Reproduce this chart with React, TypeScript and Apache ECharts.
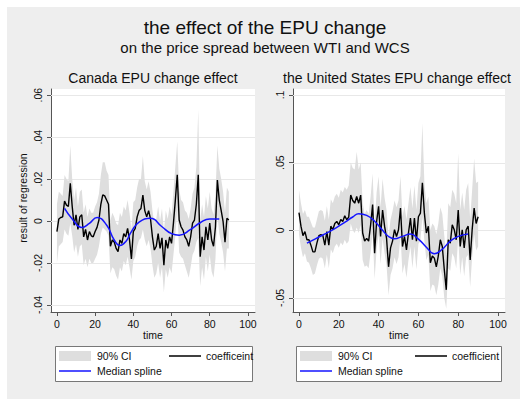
import React, { useEffect, useRef } from "react";
import * as echarts from "echarts";

const FONT = "'Liberation Sans', Arial, Helvetica, sans-serif";

// time index (periods 0..90)
const time = [
  0, 1, 2, 3, 4, 5, 6, 7, 8, 9, 10, 11, 12, 13, 14, 15, 16, 17, 18, 19,
  20, 21, 22, 23, 24, 25, 26, 27, 28, 29, 30, 31, 32, 33, 34, 35, 36, 37, 38, 39,
  40, 41, 42, 43, 44, 45, 46, 47, 48, 49, 50, 51, 52, 53, 54, 55, 56, 57, 58, 59,
  60, 61, 62, 63, 64, 65, 66, 67, 68, 69, 70, 71, 72, 73, 74, 75, 76, 77, 78, 79,
  80, 81, 82, 83, 84, 85, 86, 87, 88, 89, 90,
];

// ---- Canada EPU change effect ----
const caCoef = [
  -0.005, 0.001, 0.0017, 0.002, 0.0095, 0.0076, 0.007, 0.018, 0.007, -0.002,
  0.003, -0.004, 0.002, 0.003, -0.0075, -0.004, -0.009, -0.005, -0.007, -0.0075,
  -0.005, -0.003, 0.0005, 0.008, 0.0125, 0.012, 0.01, 0.008, -0.012, -0.009,
  -0.01, -0.013, -0.0146, -0.009, -0.0106, -0.006, -0.0075, -0.0035, -0.009, -0.018,
  -0.005, -0.0035, 0.002, 0.005, 0.006, 0.0124, 0.005, 0.002, 0.005, 0.001,
  -0.0075, -0.0138, -0.012, -0.006, -0.013, -0.008, -0.021, -0.009, -0.013, -0.0075,
  -0.0106, -0.001, 0.01, 0.022, 0.0005, -0.0027, -0.0043, -0.0075, -0.009, -0.012,
  -0.0075, -0.001, 0.0005, 0.008, 0.022, -0.017, -0.0075, -0.0138, -0.0027, -0.009,
  -0.001, -0.009, -0.012, -0.0027, 0.0195, 0.01, 0.005, -0.0003, -0.01, 0.0013,
  0.0005,
];
const caUpper = [
  0.008, 0.014, 0.013, 0.012, 0.022, 0.02, 0.019, 0.036, 0.02, 0.01,
  0.016, 0.007, 0.014, 0.015, 0.004, 0.008, 0.002, 0.006, 0.004, 0.004,
  0.007, 0.009, 0.013, 0.022, 0.028, 0.028, 0.024, 0.022, 0.0, 0.004,
  0.002, -0.001, -0.002, 0.004, 0.002, 0.007, 0.005, 0.01, 0.004, -0.004,
  0.009, 0.01, 0.016, 0.02, 0.02, 0.031, 0.019, 0.015, 0.019, 0.014,
  0.005, -0.001, 0.001, 0.007, 0.0, 0.006, -0.005, 0.005, 0.001, 0.007,
  0.003, 0.014, 0.026, 0.038, 0.015, 0.01, 0.009, 0.005, 0.004, 0.001,
  0.006, 0.013, 0.016, 0.026, 0.053, 0.0, 0.008, 0.002, 0.012, 0.006,
  0.014, 0.006, 0.003, 0.013, 0.036, 0.025, 0.02, 0.014, 0.004, 0.016,
  0.014,
];
const caLower = [
  -0.02, -0.012, -0.011, -0.01, -0.004, -0.006, -0.007, -0.001, -0.007, -0.015,
  -0.011, -0.017, -0.012, -0.011, -0.021, -0.018, -0.022, -0.018, -0.02, -0.02,
  -0.018, -0.016, -0.012, -0.006, -0.003, -0.004, -0.005, -0.007, -0.025, -0.022,
  -0.023, -0.026, -0.028, -0.022, -0.024, -0.019, -0.021, -0.017, -0.022, -0.028,
  -0.019, -0.017, -0.012, -0.009, -0.008, -0.004, -0.009, -0.012, -0.009, -0.013,
  -0.021, -0.027, -0.025, -0.02, -0.027, -0.022, -0.034, -0.023, -0.027, -0.022,
  -0.025, -0.016, -0.007, 0.006, -0.015, -0.017, -0.018, -0.021, -0.024, -0.027,
  -0.022, -0.016, -0.014, -0.01, -0.008, -0.031, -0.022, -0.028, -0.017, -0.024,
  -0.016, -0.024, -0.027, -0.018, 0.003, -0.006, -0.01, -0.015, -0.024, -0.013,
  -0.013,
];
const caSplineT = [4, 8, 13, 17, 21, 26, 30, 33, 36, 39, 43, 49, 55, 60, 64, 70, 75, 80, 85];
const caSplineV = [
  0.006, 0.001, -0.003, -0.0011, 0.0017, -0.0019, -0.009, -0.0116, -0.0098, -0.005,
  -0.0005, 0.0013, -0.0027, -0.006, -0.0067, -0.004, -0.0008, 0.001, 0.001,
];
const caYTicks = [-0.04, -0.02, 0, 0.02, 0.04, 0.06];
const caYLabels = ["-.04", "-.02", "0", ".02", ".04", ".06"];

// ---- United States EPU change effect ----
const usCoef = [
  0.013, 0.003, -0.004, -0.001, -0.007, -0.007, -0.011, -0.016, -0.016, -0.0095,
  -0.004, -0.0033, -0.004, -0.011, -0.001, -0.011, 0.003, 0.0004, 0.005, 0.0065,
  0.004, 0.008, 0.0065, 0.0107, 0.0078, 0.0097, 0.026, 0.022, 0.02, 0.025,
  0.02, 0.026, -0.002, -0.008, -0.006, -0.008, 0.004, 0.019, -0.017, 0.0065,
  0.0177, -0.0046, 0.015, 0.003, -0.006, -0.027, -0.013, -0.008, 0.0004, -0.0046,
  0.0004, 0.0164, -0.012, -0.0046, -0.0145, -0.002, 0.009, -0.007, 0.009, -0.008,
  0.01, 0.0127, 0.035, 0.0127, -0.002, 0.003, -0.024, -0.019, -0.0206, -0.027,
  -0.019, -0.007, -0.012, -0.029, -0.044, -0.007, -0.0095, 0.004, 0.0004, -0.007,
  0.015, -0.012, 0.0004, -0.013, 0.0004, 0.003, -0.022, 0.0004, 0.0164, 0.005,
  0.01,
];
const usUpper = [
  0.03, 0.02, 0.012, 0.015, 0.01, 0.01, 0.006, 0.002, 0.002, 0.008,
  0.014, 0.015, 0.014, 0.007, 0.018, 0.008, 0.023, 0.02, 0.025, 0.027,
  0.024, 0.03, 0.028, 0.032, 0.03, 0.033, 0.05, 0.046, 0.045, 0.058,
  0.045, 0.05, 0.02, 0.012, 0.015, 0.012, 0.025, 0.042, 0.004, 0.028,
  0.04, 0.017, 0.038, 0.024, 0.015, -0.005, 0.008, 0.014, 0.022, 0.017,
  0.022, 0.04, 0.01, 0.018, 0.008, 0.02, 0.032, 0.016, 0.033, 0.015,
  0.035, 0.04, 0.079, 0.035, 0.02, 0.025, 0.0, 0.005, 0.003, -0.003,
  0.005, 0.017, 0.012, -0.004, -0.018, 0.02, 0.017, 0.03, 0.027, 0.02,
  0.057, 0.015, 0.028, 0.015, 0.03, 0.035, 0.008, 0.03, 0.053, 0.035,
  0.036,
];
const usLower = [
  -0.003, -0.013, -0.02, -0.017, -0.023, -0.024, -0.028, -0.033, -0.032, -0.026,
  -0.021, -0.02, -0.021, -0.028, -0.018, -0.028, -0.014, -0.017, -0.012, -0.01,
  -0.013, -0.009, -0.011, -0.007, -0.01, -0.008, 0.005, 0.0, -0.002, 0.002,
  -0.002, 0.004, -0.022, -0.027, -0.026, -0.028, -0.016, -0.002, -0.036, -0.014,
  -0.003, -0.025, -0.006, -0.017, -0.026, -0.048, -0.033, -0.028, -0.02, -0.025,
  -0.02, -0.004, -0.032, -0.025, -0.035, -0.022, -0.012, -0.028, -0.012, -0.029,
  -0.01, -0.008, 0.01, -0.008, -0.022, -0.018, -0.045, -0.04, -0.041, -0.048,
  -0.04, -0.028, -0.034, -0.05, -0.058, -0.028, -0.03, -0.017, -0.02, -0.028,
  -0.005, -0.033, -0.02, -0.034, -0.02, -0.018, -0.042, -0.02, -0.003, -0.015,
  -0.012,
];
const usSplineT = [4, 8, 12, 16, 20, 24, 27, 30, 34, 38, 42, 45, 48, 52, 56, 60, 64, 68, 72, 76, 80, 85];
const usSplineV = [
  -0.0095, -0.0065, -0.0035, -0.0005, 0.003, 0.0068, 0.0098, 0.0122, 0.011, 0.0067,
  0.0, -0.0046, -0.0063, -0.0045, -0.0028, -0.0065, -0.0125, -0.0174, -0.014, -0.008,
  -0.0045, -0.0027,
];
const usYTicks = [-0.05, 0, 0.05, 0.1];
const usYLabels = ["-.05", "0", ".05", ".1"];

const xTicks = [0, 20, 40, 60, 80, 100];
const xLabels = ["0", "20", "40", "60", "80", "100"];

const AXIS = "#555555";
const TXT = "#111111";

function lookup(ticks: number[], labels: string[]) {
  return (v: number) => {
    const i = ticks.findIndex((t) => Math.abs(t - v) < 1e-9);
    return i >= 0 ? labels[i] : "";
  };
}

function band(idx: number, lower: number[], upper: number[], gridVals: number[]) {
  return {
    type: "custom",
    xAxisIndex: idx,
    yAxisIndex: idx,
    silent: true,
    z: 1,
    data: time.map((t, i) => [t, lower[i], upper[i]]),
    encode: { x: 0, y: [1, 2] },
    renderItem: (params: any, api: any) => {
      if (params.dataIndex !== 0) return null;
      const cs = params.coordSys;
      const children: any[] = [];
      gridVals.forEach((v) => {
        const p = api.coord([0, v]);
        const y = Math.round(p[1]) + 0.5;
        children.push({
          type: "line",
          shape: { x1: cs.x, y1: y, x2: cs.x + cs.width, y2: y },
          style: { stroke: "#e8e8e8", lineWidth: 1 },
        });
      });
      const pts: number[][] = [];
      time.forEach((t, i) => pts.push(api.coord([t, upper[i]])));
      for (let i = time.length - 1; i >= 0; i--) pts.push(api.coord([time[i], lower[i]]));
      children.push({ type: "polygon", shape: { points: pts }, style: { fill: "#dedede" } });
      return { type: "group", children };
    },
  };
}

function xAxis(idx: number, min: number, max: number) {
  return {
    type: "value",
    gridIndex: idx,
    min,
    max,
    axisLine: { show: true, onZero: false, lineStyle: { color: AXIS, width: 1 } },
    axisTick: { show: true, length: 4, customValues: xTicks, lineStyle: { color: AXIS } },
    axisLabel: {
      customValues: xTicks,
      formatter: lookup(xTicks, xLabels),
      margin: 6,
      fontSize: 10.5,
      fontFamily: FONT,
      color: TXT,
    },
    splitLine: { show: false },
  };
}

function yAxis(idx: number, min: number, max: number, ticks: number[], labels: string[]) {
  return {
    type: "value",
    gridIndex: idx,
    min,
    max,
    axisLine: { show: true, onZero: false, lineStyle: { color: AXIS, width: 1 } },
    axisTick: { show: true, length: 4, customValues: ticks, lineStyle: { color: AXIS } },
    axisLabel: {
      customValues: ticks,
      formatter: lookup(ticks, labels),
      rotate: 90,
      margin: 8,
      fontSize: 10.5,
      fontFamily: FONT,
      color: TXT,
    },
    splitLine: { show: false },
  };
}

function txt(x: number, y: number, text: string, size: number, align = "center", rotation = 0) {
  return {
    type: "text",
    x,
    y,
    rotation,
    silent: true,
    style: {
      text,
      fill: TXT,
      fontSize: size,
      fontFamily: FONT,
      textAlign: align,
      textVerticalAlign: "middle",
    },
  };
}

function legend(x0: number, x1: number, blackX: number, coefText: string) {
  const top = 346;
  const h = 35;
  return [
    {
      type: "rect",
      shape: { x: x0 + 0.5, y: top + 0.5, width: x1 - x0, height: h },
      style: { fill: "#ffffff", stroke: "#777777", lineWidth: 1 },
    },
    { type: "rect", shape: { x: x0 + 4, y: top + 5, width: 32, height: 10 }, style: { fill: "#dedede" } },
    txt(x0 + 42, top + 10, "90% CI", 10.5, "left"),
    {
      type: "line",
      shape: { x1: blackX, y1: top + 10, x2: blackX + 32, y2: top + 10 },
      style: { stroke: "#000000", lineWidth: 1.5 },
    },
    txt(blackX + 37, top + 10, coefText, 10.5, "left"),
    {
      type: "line",
      shape: { x1: x0 + 4, y1: top + 25, x2: x0 + 36, y2: top + 25 },
      style: { stroke: "#1515ff", lineWidth: 1.5 },
    },
    txt(x0 + 42, top + 25, "Median spline", 10.5, "left"),
  ];
}

export default function App() {
  const ref = useRef<HTMLDivElement>(null);
  useEffect(() => {
    if (!ref.current) return;
    const chart = echarts.init(ref.current, undefined, { renderer: "svg" });
    const option: any = {
      animation: false,
      backgroundColor: "#ffffff",
      grid: [
        { left: 51, top: 89, width: 204, height: 223, show: true, backgroundColor: "#ffffff", borderWidth: 0 },
        { left: 293, top: 89, width: 212, height: 223, show: true, backgroundColor: "#ffffff", borderWidth: 0 },
      ],
      xAxis: [xAxis(0, -3.1, 103.7), xAxis(1, -3.0, 103.5)],
      yAxis: [
        yAxis(0, -0.0433, 0.0629, caYTicks, caYLabels),
        yAxis(1, -0.0604, 0.1044, usYTicks, usYLabels),
      ],
      series: [
        band(0, caLower, caUpper, caYTicks),
        {
          type: "line",
          xAxisIndex: 0,
          yAxisIndex: 0,
          data: time.map((t, i) => [t, caCoef[i]]),
          symbol: "none",
          z: 3,
          lineStyle: { color: "#000000", width: 1.4 },
        },
        {
          type: "line",
          xAxisIndex: 0,
          yAxisIndex: 0,
          data: caSplineT.map((t, i) => [t, caSplineV[i]]),
          symbol: "none",
          smooth: true,
          z: 4,
          lineStyle: { color: "#1515ff", width: 1.5 },
        },
        band(1, usLower, usUpper, usYTicks),
        {
          type: "line",
          xAxisIndex: 1,
          yAxisIndex: 1,
          data: time.map((t, i) => [t, usCoef[i]]),
          symbol: "none",
          z: 3,
          lineStyle: { color: "#000000", width: 1.4 },
        },
        {
          type: "line",
          xAxisIndex: 1,
          yAxisIndex: 1,
          data: usSplineT.map((t, i) => [t, usSplineV[i]]),
          symbol: "none",
          smooth: true,
          z: 4,
          lineStyle: { color: "#1515ff", width: 1.5 },
        },
      ],
      graphic: [
        {
          type: "rect",
          z: -100,
          silent: true,
          shape: { x: 7, y: 7, width: 513, height: 392 },
          style: { fill: "#eeeeee" },
        },
        txt(265, 27, "the effect of the EPU change", 19),
        txt(265, 47, "on the price spread between WTI and WCS", 15),
        txt(153, 78, "Canada EPU change effect", 14),
        txt(397, 78, "the United States EPU change effect", 14),
        txt(23, 198, "result of regression", 10.5, "center", Math.PI / 2),
        txt(153, 335, "time", 10.5),
        txt(399, 335, "time", 10.5),
        ...legend(55, 252, 169, "coefficeint"),
        ...legend(296, 501, 415, "coefficient"),
      ],
    };
    chart.setOption(option);
    return () => chart.dispose();
  }, []);
  return (
    <div
      ref={ref}
      style={{ position: "absolute", left: 0, top: 0, width: 520, height: 399 }}
    />
  );
}
